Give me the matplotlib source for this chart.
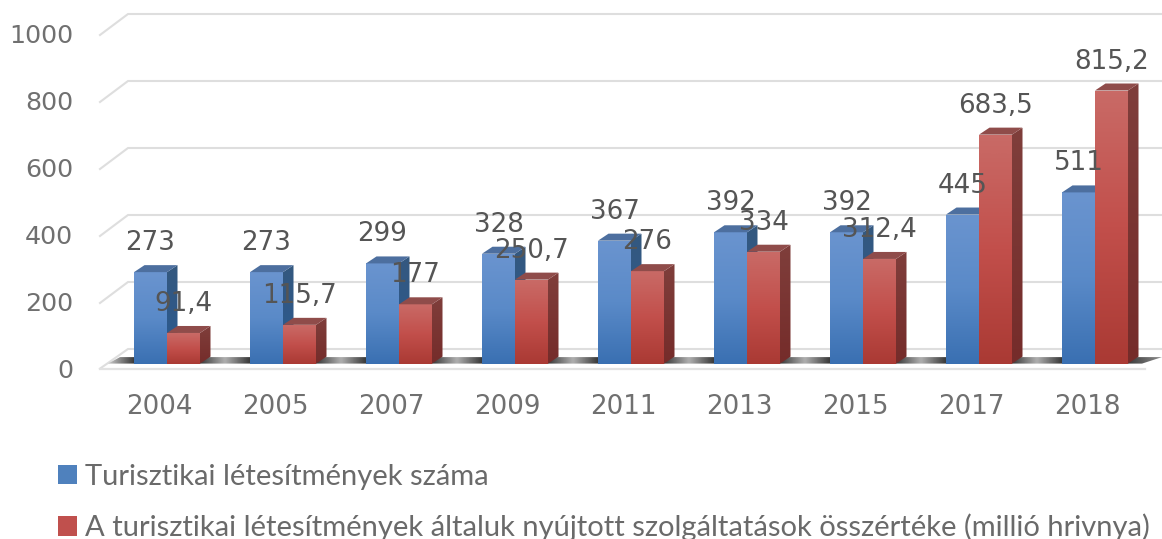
import numpy as np
import matplotlib
matplotlib.use("Agg")
import matplotlib.pyplot as plt
from matplotlib.colors import LinearSegmentedColormap as LSC
from matplotlib.patches import Polygon, Patch

years = ["2004", "2005", "2007", "2009", "2011", "2013", "2015", "2017", "2018"]
facilities = [273, 273, 299, 328, 367, 392, 392, 445, 511]
services = [91.4, 115.7, 177, 250.7, 276, 334, 312.4, 683.5, 815.2]
y_ticks = [0, 200, 400, 600, 800, 1000]
legend_labels = ["Turisztikai létesítmények száma",
                 "A turisztikai létesítmények általuk nyújtott szolgáltatások összértéke (millió hrivnya)"]


def fmt(v):
    return str(v).replace(".", ",")


W, H = 1162, 539
XS, YS = 116.0, 0.335           # pixels per category / per value unit
X0, Y0 = 167.0, 363.6           # pixel position of first group centre / baseline
fig = plt.figure(figsize=(W / 100, H / 100), dpi=100)
ax = fig.add_axes([0, 0, 1, 1])
XLIM = (-X0 / XS, (W - X0) / XS)
YLIM = ((Y0 - H) / YS, Y0 / YS)


def px(dx):
    return dx / XS


def py(dy):
    return dy / YS


BAR = px(33)                    # bar width
DX, DY = px(10.5), py(7)        # bar depth

# walls and floor
WALL_X0, WALL_X1 = px(128 - X0), px(W - X0)
FRONT_X0, FRONT_X1 = px(100 - X0), px(1145 - X0)
BACK = py(14.6)
FRONT = py(-5.0)
GRID = "#dedede"
for t in y_ticks:
    ax.plot([FRONT_X0, WALL_X0, WALL_X1], [t + FRONT if t == 0 else t + py(-6.4), t + BACK, t + BACK],
            color=GRID, lw=1.5, zorder=1, solid_joinstyle="miter")
ax.plot([FRONT_X0, FRONT_X1], [FRONT, FRONT], color="#e2e2e2", lw=1.6, zorder=1)

# floor shadow: dark next to the bars, lighter in the gaps
cm_shadow = LSC.from_list("s", ["#3c3c3c", "#b0b0b0", "#3c3c3c"])
cm_end = LSC.from_list("e", ["#c8c8c8", "#3c3c3c"])
cm_tail = LSC.from_list("t", ["#3c3c3c", "#8c8c8c"])
n = len(years)
sh_lo, sh_hi = 0, py(6.5)
floor = Polygon([[px(108 - X0), sh_lo], [px(120 - X0), sh_hi], [px(1162 - X0), sh_hi], [px(1142 - X0), sh_lo]],
                closed=True, fc="none", ec="none", transform=ax.transData)
ax.add_patch(floor)
lefts = [px(108 - X0)] + [i + BAR for i in range(n)]
rights = [i - BAR for i in range(n)] + [px(1162 - X0)]
for k, (a, b) in enumerate(zip(lefts, rights)):
    cm = cm_end if k == 0 else cm_tail if k == n else cm_shadow
    im = ax.imshow(np.linspace(0, 1, 32)[None, :], extent=[a, b, sh_lo, sh_hi], cmap=cm,
                   aspect="auto", zorder=1.5, interpolation="bilinear")
    im.set_clip_path(floor)

BLUE = dict(front=["#6a94cf", "#5a8ac8", "#3a70b2"], side=["#34587f", "#2a5a92"], top="#4d6f9f")
RED = dict(front=["#c96a66", "#c24f4b", "#aa3a34"], side=["#7f3e3b", "#752c2a"], top="#8f4c4a")


def gradient(poly_pts, colors, z):
    poly = Polygon(poly_pts, closed=True, fc="none", ec="none", transform=ax.transData)
    ax.add_patch(poly)
    xs, ys = zip(*poly_pts)
    cmap = LSC.from_list("g", colors)
    im = ax.imshow(np.linspace(0, 1, 64)[:, None], extent=[min(xs), max(xs), min(ys), max(ys)], origin="upper",
                   cmap=cmap, aspect="auto", zorder=z, interpolation="bilinear")
    im.set_clip_path(poly)


def bar3d(left, v, pal, z):
    r = left + BAR
    gradient([(left, 0), (r, 0), (r, v), (left, v)], pal["front"], z)
    gradient([(r, 0), (r + DX, DY), (r + DX, v + DY), (r, v)], pal["side"], z)
    ax.add_patch(Polygon([(left, v), (r, v), (r + DX, v + DY), (left + DX, v + DY)], closed=True,
                         fc=pal["top"], ec="none", zorder=z))


for i in range(n):
    bar3d(i - BAR, facilities[i], BLUE, 2 + i * 0.1)
    bar3d(i, services[i], RED, 2.05 + i * 0.1)

# data labels
LABEL = "#555555"
for i in range(n):
    ax.text(i - BAR / 2, facilities[i] + py(29), fmt(facilities[i]), ha="center", va="center",
            fontsize=18.8, color=LABEL, zorder=5)
    ax.text(i + BAR / 2, services[i] + py(29), fmt(services[i]), ha="center", va="center",
            fontsize=18.8, color=LABEL, zorder=6)

# axis labels
TICK = "#707070"
for t in y_ticks:
    ax.text(px(73 - X0), t + py(-7), str(t), ha="right", va="center", fontsize=18.3, color=TICK)
for i, y in enumerate(years):
    ax.text(i - px(8), py(-43), y, ha="center", va="center", fontsize=18.8, color=TICK)

handles = [Patch(fc="#4f81bd", ec="none"), Patch(fc="#c0504d", ec="none")]
ax.legend(handles, legend_labels, loc="lower left", bbox_to_anchor=(49 / W, -0.02), frameon=False,
          prop={"family": "Lato", "size": 21}, labelcolor="#6a6a6a", handlelength=0.65, handleheight=0.65,
          handletextpad=0.28, labelspacing=0.81, borderpad=0.3, borderaxespad=0)

ax.set_xlim(*XLIM)
ax.set_ylim(*YLIM)
ax.axis("off")
fig.savefig("out.png", dpi=100)
